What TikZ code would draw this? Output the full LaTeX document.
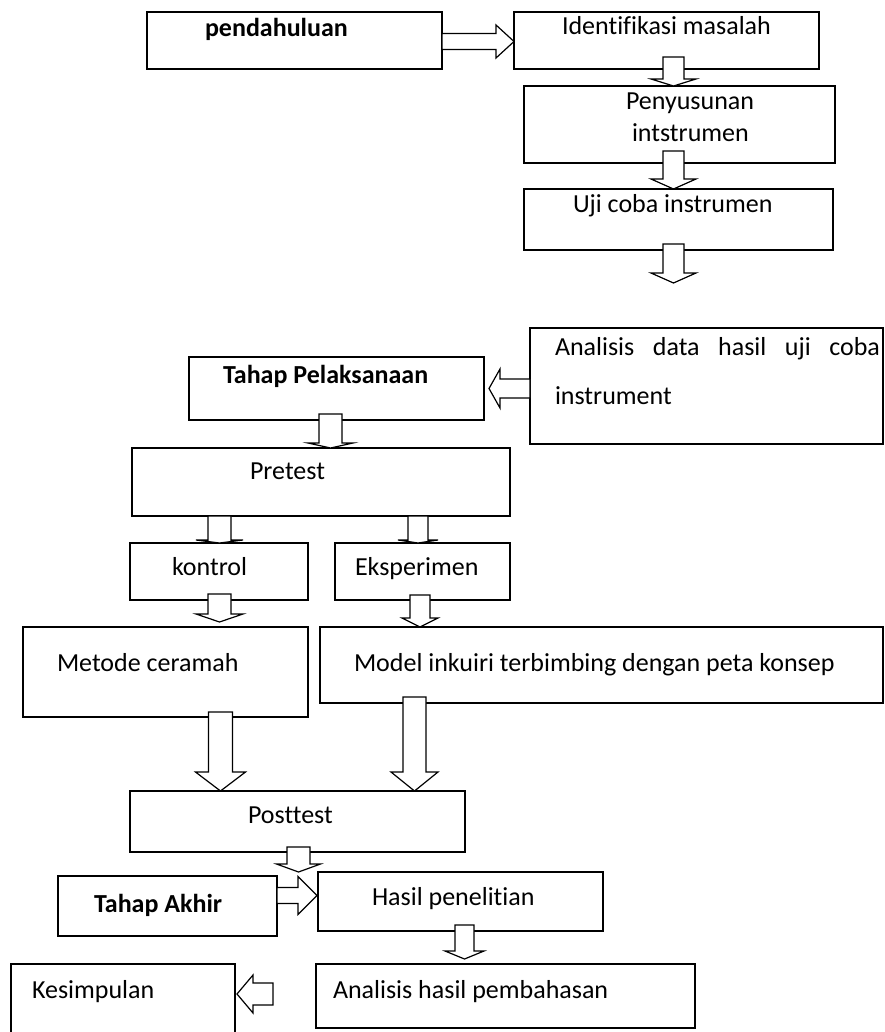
\documentclass[tikz,border=0pt]{standalone}
\usepackage{fontspec}
\setmainfont{Carlito}[Ligatures={NoCommon}]
\usetikzlibrary{calc}
\tikzset{
  box/.style={draw=black, line width=1.2pt, inner sep=0pt, outer sep=0pt, anchor=north west, fill=white},
  txt/.style={inner sep=0pt, outer sep=0pt, anchor=base west, font=\fontsize{26}{32}\selectfont},
  btxt/.style={txt, font=\fontsize{26}{32}\selectfont\bfseries},
  blk/.style={draw=black, line width=1.2pt, fill=white, line join=miter},
  endpt/.style={inner sep=0pt, outer sep=0pt, minimum size=0pt},
}
% box: name, left, top, right, bottom (pixel coordinates, y downwards)
\newcommand\bx[5]{\node[box, minimum width={(#4)-(#2)}, minimum height={(#5)-(#3)}] (#1) at (#2,-#3) {};}
% down block arrow: src, dst, x, top offset, head length, shaft half, head half, tip offset
\newcommand\dblk[8]{\draw[blk] let \p1=(#1.south), \p2=(#2.north) in
  ({#3-#6}, {\y1+#4}) -- ({#3-#6}, {\y2+#8+#5}) -- ({#3-#7}, {\y2+#8+#5}) -- ({#3}, {\y2+#8})
  -- ({#3+#7}, {\y2+#8+#5}) -- ({#3+#6}, {\y2+#8+#5}) -- ({#3+#6}, {\y1+#4}) -- cycle;}
% right block arrow: src, dst, y, start offset, head length, shaft half, head half, tip offset
\newcommand\rblk[8]{\draw[blk] let \p1=(#1.east), \p2=(#2.west) in
  ({\x1-(#4)}, {#3+#6}) -- ({\x2-#8-#5}, {#3+#6}) -- ({\x2-#8-#5}, {#3+#7}) -- ({\x2-#8}, {#3})
  -- ({\x2-#8-#5}, {#3-#7}) -- ({\x2-#8-#5}, {#3-#6}) -- ({\x1-(#4)}, {#3-#6}) -- cycle;}
% left block arrow: src, dst, y, start offset, head length, shaft half, head half, tip offset
\newcommand\lblk[8]{\draw[blk] let \p1=(#1.west), \p2=(#2.east) in
  ({\x1+(#4)}, {#3+#6}) -- ({\x2+#8+#5}, {#3+#6}) -- ({\x2+#8+#5}, {#3+#7}) -- ({\x2+#8}, {#3})
  -- ({\x2+#8+#5}, {#3-#7}) -- ({\x2+#8+#5}, {#3-#6}) -- ({\x1+(#4)}, {#3-#6}) -- cycle;}
\begin{document}
\begin{tikzpicture}[x=1pt,y=1pt]
\useasboundingbox (0,0) rectangle (884,-1032);
\clip (0,0) rectangle (884,-1032);

% boxes
\bx{pend}{147}{12}{442}{69}
\bx{ident}{514}{12}{819}{69}
\bx{peny}{524}{86}{835}{163}
\bx{uji}{524}{189}{833}{250}
\bx{anal}{530}{328}{883}{444}
\bx{tahap}{189}{357}{484}{420}
\bx{pretest}{132}{448}{510}{516}
\bx{kontrol}{130}{543}{308}{600}
\bx{eksp}{335}{543}{510}{600}
\bx{metode}{23}{627}{308}{717}
\bx{model}{320}{627}{883}{703}
\bx{post}{130}{791}{465}{852}
\bx{takhir}{58}{876}{277}{936}
\bx{hasil}{318}{872}{603}{931}
\bx{anhas}{316}{964}{695}{1028}
\bx{kesim}{11}{964}{235}{1045}
\node[endpt] (ujiend) at (673.5,-283) {};

% texts
\node[btxt] (tpend) at (205,-37) {pendahuluan};
\node[txt] (tident) at (562,-35) {Identifikasi masalah};
\node[txt] (tpeny1) at (626,-110) {Penyusunan};
\node[txt] (tpeny2) at (632,-142) {intstrumen};
\node[txt] (tuji) at (573,-213) {Uji coba instrumen};
\node[txt] (tanal1) at (555,-355) {\makebox[325pt][s]{Analisis data hasil uji coba}};
\node[txt] (tanal2) at (555,-404) {instrument};
\node[btxt] (ttahap) at (223,-383) {Tahap Pelaksanaan};
\node[txt] (tpre) at (250,-479) {Pretest};
\node[txt] (tkon) at (172,-575) {kontrol};
\node[txt] (teks) at (355,-575) {Eksperimen};
\node[txt] (tmet) at (57,-671) {Metode ceramah};
\node[txt] (tmod) at (354,-671) {Model inkuiri terbimbing dengan peta konsep};
\node[txt] (tpost) at (248,-823) {Posttest};
\node[btxt] (ttak) at (94,-912) {Tahap Akhir};
\node[txt] (thas) at (372,-905) {Hasil penelitian};
\node[txt] (tanh) at (333,-998) {Analisis hasil pembahasan};
\node[txt] (tkes) at (32,-998) {Kesimpulan};

% block arrows
\rblk{pend}{ident}{-41.5}{0}{18}{8}{16.5}{0}
\dblk{ident}{peny}{673.5}{12}{7}{10.5}{22.5}{0}
\dblk{peny}{uji}{673.5}{12}{10}{10.5}{22.5}{0}
\dblk{uji}{ujiend}{673.5}{6}{10}{10.5}{22.5}{0}
\lblk{anal}{tahap}{-388.5}{0}{11}{9.5}{19.5}{5}
\dblk{tahap}{pretest}{330.5}{6}{5}{11.5}{22.5}{0}
\dblk{pretest}{kontrol}{219.5}{0}{3}{11.5}{23.5}{0}
\dblk{pretest}{eksp}{418}{0}{3}{10}{20}{0}
\dblk{kontrol}{metode}{219.5}{6}{8}{11.5}{23.5}{5}
\dblk{eksp}{model}{420}{5}{9}{10}{18}{0}
\dblk{metode}{post}{220.5}{5}{19}{12}{25}{0}
\dblk{model}{post}{414.5}{6}{19}{11.5}{23.5}{0}
\dblk{post}{hasil}{298.5}{5}{8}{11.5}{22}{0}
\rblk{takhir}{hasil}{-895.5}{0}{19}{8}{19}{1}
\dblk{hasil}{anhas}{464.5}{6}{8}{9.5}{19.5}{5}
\lblk{anhas}{kesim}{-994}{-43}{16}{11}{19}{2}
\end{tikzpicture}
\end{document}
